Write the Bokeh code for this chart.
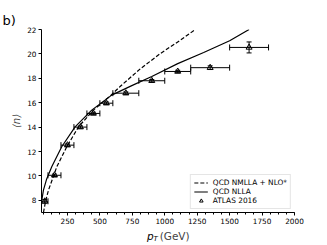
from bokeh.plotting import figure
from bokeh.models import (ColumnDataSource, Whisker, TeeHead, Label, Legend,
                          LegendItem, Range1d, SingleIntervalTicker, Title)
from bokeh.embed import file_html
from bokeh.resources import INLINE

# ATLAS 2016 data
pt_center = [75, 150, 250, 350, 450, 550, 700, 900, 1100, 1350, 1650]
pt_low = [50, 100, 200, 300, 400, 500, 600, 800, 1000, 1200, 1500]
pt_high = [100, 200, 300, 400, 500, 600, 800, 1000, 1200, 1500, 1800]
n_mean = [7.92, 10.05, 12.52, 14.0, 15.12, 15.96, 16.78, 17.8, 18.56, 18.87, 20.53]
n_err = [0.15, 0.1, 0.1, 0.1, 0.1, 0.1, 0.1, 0.1, 0.1, 0.15, 0.45]

# QCD NLLA (solid)
nlla_pt = [45, 52, 65, 90, 129, 206, 309, 437, 591, 750, 900, 1100, 1300, 1500, 1650]
nlla_n = [7.0, 8.0, 8.84, 9.75, 10.75, 12.39, 14.02, 15.39, 16.62, 17.42, 18.15, 19.2, 20.12, 21.08, 22.0]

# QCD NMLLA + NLO* (dashed)
nmlla_pt = [65, 83, 104, 168, 245, 335, 450, 579, 658, 812, 966, 1120, 1236]
nmlla_n = [7.0, 8.0, 8.84, 10.75, 12.39, 14.02, 15.39, 16.55, 17.35, 18.78, 20.03, 21.12, 22.0]

x_range = (50, 2000)
y_range = (7, 22)

FONT = "DejaVu Sans"

p = figure(width=327, height=245, output_backend="svg", toolbar_location=None,
           x_range=Range1d(*x_range), y_range=Range1d(*y_range),
           min_border_left=41, min_border_right=33, min_border_top=29,
           min_border_bottom=33)
p.outline_line_color = None
p.xgrid.visible = False
p.ygrid.visible = False
p.background_fill_color = "white"
p.border_fill_color = "white"

p.xaxis.ticker = SingleIntervalTicker(interval=250, num_minor_ticks=4)
p.yaxis.ticker = SingleIntervalTicker(interval=2, num_minor_ticks=0)
for ax in (p.xaxis, p.yaxis):
    ax.major_label_text_font = FONT
    ax.major_label_text_font_size = "7.3px"
    ax.major_label_text_color = "black"
    ax.axis_line_color = "black"
    ax.major_tick_line_color = "black"
    ax.minor_tick_line_color = "black"
    ax.major_tick_out = 3
    ax.major_tick_in = 0
    ax.minor_tick_out = 2
    ax.minor_tick_in = 0
    ax.major_label_standoff = 2
p.yaxis.minor_tick_line_color = None

p.yaxis.axis_label = "\u27e8n\u27e9"
p.yaxis.axis_label_text_font = FONT
p.yaxis.axis_label_text_font_style = "italic"
p.yaxis.axis_label_text_font_size = "10px"
p.yaxis.axis_label_standoff = 2

# x label: "(GeV)" carried by the axis (shifted right to leave room for p_T)
p.xaxis.axis_label = "\u00a0\u00a0\u00a0\u00a0(GeV)"
p.xaxis.axis_label_text_font = FONT
p.xaxis.axis_label_text_font_style = "normal"
p.xaxis.axis_label_text_font_size = "10.5px"
p.xaxis.axis_label_standoff = 3

src = ColumnDataSource(dict(x=pt_center, y=n_mean, xl=pt_low, xh=pt_high,
                            yl=[m - e for m, e in zip(n_mean, n_err)],
                            yh=[m + e for m, e in zip(n_mean, n_err)]))

r_dash = p.line(nmlla_pt, nmlla_n, line_color="black", line_width=1.2, line_dash="4 2")
r_solid = p.line(nlla_pt, nlla_n, line_color="black", line_width=1.2)

wx = Whisker(source=src, base="y", lower="xl", upper="xh", dimension="width",
             line_color="black", line_width=1,
             lower_head=TeeHead(size=6, line_color="black", line_width=1),
             upper_head=TeeHead(size=6, line_color="black", line_width=1))
wy = Whisker(source=src, base="x", lower="yl", upper="yh", dimension="height",
             line_color="black", line_width=1,
             lower_head=TeeHead(size=5, line_color="black", line_width=1),
             upper_head=TeeHead(size=5, line_color="black", line_width=1))
p.add_layout(wx)
p.add_layout(wy)
r_pts = p.scatter("x", "y", source=src, marker="triangle", size=6,
                  fill_color=None, line_color="black", line_width=1)

legend = Legend(items=[LegendItem(label="QCD NMLLA + NLO*", renderers=[r_dash]),
                       LegendItem(label="QCD NLLA", renderers=[r_solid]),
                       LegendItem(label="ATLAS 2016", renderers=[r_pts])],
                location="bottom_right", margin=3, padding=3, spacing=0,
                glyph_width=14, glyph_height=9, label_height=9,
                label_standoff=5, label_text_font=FONT,
                label_text_font_size="7.4px", label_text_color="black",
                border_line_color="#cccccc", border_line_width=1,
                background_fill_color="white", background_fill_alpha=0.8)
p.add_layout(legend)

# "p" and subscript "T" of the x label, hosted in the right side panel
p.add_layout(Label(x=-147.5, y=-23.5, x_units="screen", y_units="screen", text="p",
                   text_baseline="alphabetic",
                   text_font=FONT, text_font_style="italic", text_font_size="10.5px",
                   text_color="black"), "right")
p.add_layout(Label(x=-148, y=-26, x_units="screen", y_units="screen", text="T",
                   text_baseline="alphabetic",
                   text_font=FONT, text_font_style="italic", text_font_size="7px",
                   text_color="black"), "right")

# panel tag
p.add_layout(Title(text="b)", align="left", offset=-39, text_font=FONT,
                   text_font_size="13px", text_font_style="normal",
                   vertical_align="top", text_color="black", standoff=0), "above")

open("out.html", "w").write(file_html(p, INLINE))
